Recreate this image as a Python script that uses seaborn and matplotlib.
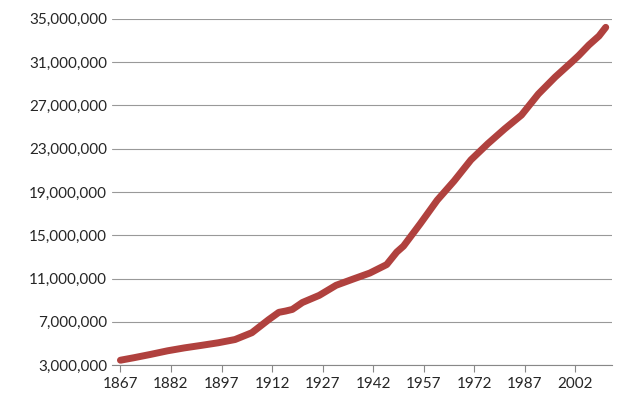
import matplotlib
matplotlib.use("Agg")
import matplotlib.pyplot as plt
import seaborn as sns
import pandas as pd
from matplotlib.ticker import FuncFormatter

years = [1867, 1871, 1876, 1881, 1886, 1891, 1896, 1901, 1906, 1911, 1914, 1916, 1918, 1921, 1926, 1931, 1936, 1941, 1946, 1949, 1951, 1956, 1961, 1966, 1971, 1976, 1981, 1986, 1991, 1996, 2001, 2003, 2006, 2009, 2011]
population = [3.46e6, 3.69e6, 4.0e6, 4.33e6, 4.6e6, 4.83e6, 5.07e6, 5.37e6, 6.0e6, 7.21e6, 7.88e6, 8.0e6, 8.15e6, 8.79e6, 9.45e6, 10.38e6, 10.95e6, 11.51e6, 12.29e6, 13.45e6, 14.0e6, 16.08e6, 18.24e6, 20.01e6, 21.96e6, 23.45e6, 24.82e6, 26.1e6, 28.04e6, 29.61e6, 31.02e6, 31.6e6, 32.57e6, 33.4e6, 34.2e6]
xticks = [1867, 1882, 1897, 1912, 1927, 1942, 1957, 1972, 1987, 2002]
yticks = list(range(3_000_000, 35_000_001, 4_000_000))

sns.set_style("white")
plt.rcParams['font.family'] = ['Lato', 'DejaVu Sans']
df = pd.DataFrame({"year": years, "pop": population})

fig, ax = plt.subplots(figsize=(6.4, 4.15), dpi=100)
fig.subplots_adjust(left=0.175, right=0.957, top=0.955, bottom=0.12)
sns.lineplot(data=df, x="year", y="pop", ax=ax, color="#b0413e", linewidth=5, solid_capstyle="round")
ax.set_xlim(1864.5, 2013)
ax.set_ylim(3_000_000, 35_000_000)
ax.set_xticks(xticks)
ax.set_yticks(yticks)
ax.yaxis.set_major_formatter(FuncFormatter(lambda v, p: f"{int(v):,}"))
ax.grid(axis="y", color="#999999", linewidth=0.8)
ax.set_axisbelow(True)
ax.set_xlabel("")
ax.set_ylabel("")
for s in ["top", "right", "left"]:
    ax.spines[s].set_visible(False)
ax.spines["bottom"].set_color("#888888")
ax.tick_params(axis="x", bottom=True, length=5, color="#888888", labelsize=11)
ax.tick_params(axis="y", labelsize=11, length=0)
fig.savefig("out.png", dpi=100)
